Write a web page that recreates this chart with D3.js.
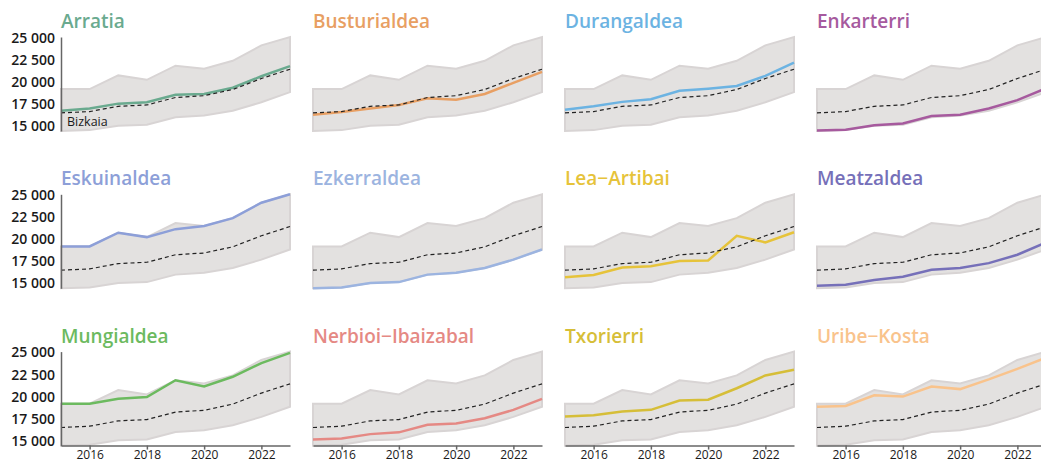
<!DOCTYPE html>
<html lang="eu">
<head>
<meta charset="UTF-8">
<title>Bizkaia eskualdeak</title>
<script src="https://d3js.org/d3.v7.min.js"></script>
<style>
  body { margin: 0; background: #fff; }
  text { font-family: "Open Sans", "Noto Sans", sans-serif; }
</style>
</head>
<body>
<script>
// urteak eta balioak
var years = [2015, 2016, 2017, 2018, 2019, 2020, 2021, 2022, 2023];
var bizkaia      = [16500, 16650, 17250, 17400, 18250, 18450, 19150, 20400, 21450];
var arratia      = [16750, 17000, 17550, 17700, 18550, 18650, 19350, 20650, 21800];
var busturialdea = [16300, 16600, 17000, 17400, 18150, 18000, 18650, 19900, 21150];
var durangaldea  = [16850, 17250, 17750, 18050, 19000, 19250, 19550, 20700, 22200];
var enkarterri   = [14500, 14600, 15100, 15300, 16150, 16300, 17000, 17950, 19300];
var eskuinaldea  = [19200, 19200, 20750, 20250, 21150, 21500, 22400, 24150, 25100];
var ezkerraldea  = [14450, 14550, 15050, 15150, 16000, 16200, 16750, 17700, 18850];
var leaArtibai   = [15700, 15950, 16800, 16950, 17550, 17600, 20400, 19650, 20800];
var meatzaldea   = [14750, 14850, 15400, 15750, 16550, 16750, 17300, 18250, 19650];
var mungialdea   = [19200, 19200, 19750, 19950, 21850, 21150, 22250, 23800, 24950];
var nerbioi      = [15150, 15250, 15750, 15950, 16800, 16950, 17550, 18500, 19750];
var txorierri    = [17750, 17900, 18300, 18500, 19550, 19650, 20950, 22400, 23050];
var uribeKosta   = [18850, 18950, 20150, 20000, 21150, 20850, 21950, 23150, 24400];

var names  = ["Arratia", "Busturialdea", "Durangaldea", "Enkarterri",
              "Eskuinaldea", "Ezkerraldea", "Lea\u2212Artibai", "Meatzaldea",
              "Mungialdea", "Nerbioi\u2212Ibaizabal", "Txorierri", "Uribe\u2212Kosta"];
var series = [arratia, busturialdea, durangaldea, enkarterri,
              eskuinaldea, ezkerraldea, leaArtibai, meatzaldea,
              mungialdea, nerbioi, txorierri, uribeKosta];
var colors = ["#6aaa8f", "#e89f63", "#6cb3e2", "#a65a9e",
              "#8d9fd8", "#9cb4e0", "#e6c33a", "#7670b9",
              "#6cba5f", "#e58984", "#d6be38", "#f9c38c"];
var yTicks = [15000, 17500, 20000, 22500, 25000];
var xTicks = [2016, 2018, 2020, 2022];

var width = 1041, height = 463;
var left = 61, colStep = 252, panelW = 229;
var top0 = 37, rowStep = 157.3, panelH = 94;

var svg = d3.select("body").append("svg")
  .attr("width", width).attr("height", height);

// tartea: eskualde guztien min eta max urte bakoitzean
var band = years.map(function(yr, i) {
  return { year: yr,
           lo: d3.min(series, function(s) { return s[i]; }),
           hi: d3.max(series, function(s) { return s[i]; }) };
});
var all = d3.merge(series.concat([bizkaia]));

var x = d3.scaleLinear().domain([2015, 2023]).range([0, panelW]);
var y = d3.scaleLinear().domain(d3.extent(all)).range([panelH, 0]);

var loc = d3.formatLocale({ decimal: ",", thousands: " ", grouping: [3], currency: ["", ""] });
var fmt = loc.format(",d");

var area = d3.area().x(function(d) { return x(d.year); })
  .y0(function(d) { return y(d.lo); }).y1(function(d) { return y(d.hi); });
var line = d3.line().x(function(d, i) { return x(years[i]); }).y(function(d) { return y(d); });

series.forEach(function(s, k) {
  var col = k % 4, row = Math.floor(k / 4);
  var g = svg.append("g")
    .attr("transform", "translate(" + (left + col * colStep) + "," + (top0 + row * rowStep) + ")");

  g.append("path").datum(band).attr("d", area)
    .attr("fill", "#e3e1e0").attr("stroke", "#d8d4d4").attr("stroke-width", 2);

  g.append("path").datum(s).attr("d", line)
    .attr("fill", "none").attr("stroke", colors[k]).attr("stroke-width", 2.5);

  g.append("path").datum(bizkaia).attr("d", line)
    .attr("fill", "none").attr("stroke", "#222").attr("stroke-width", 1.2)
    .attr("stroke-dasharray", "4,3");

  g.append("text").attr("x", 0).attr("y", -9)
    .attr("fill", colors[k]).attr("font-size", 19).attr("font-weight", 600)
    .text(names[k]);

  if (col == 0) {
    var ya = g.append("g").call(d3.axisLeft(y).tickValues(yTicks).tickFormat(fmt)
      .tickSize(0).tickPadding(6));
    ya.select(".domain").attr("stroke", "#666").attr("stroke-width", 1.5);
    ya.selectAll("text").attr("font-size", 14).attr("font-weight", 600)
      .attr("fill", "#1a1a1a").style("font-family", "'Open Sans'");
  }
  if (row == 2) {
    var xa = g.append("g").attr("transform", "translate(0," + panelH + ")")
      .call(d3.axisBottom(x).tickValues(xTicks).tickFormat(d3.format("d"))
        .tickSizeInner(4).tickSizeOuter(0).tickPadding(1));
    xa.select(".domain").attr("stroke", "#666").attr("stroke-width", 1.5);
    xa.selectAll(".tick line").attr("stroke", "#666").attr("stroke-width", 1.5);
    xa.selectAll("text").attr("font-size", 12).attr("font-weight", 500)
      .attr("fill", "#1a1a1a").style("font-family", "'Open Sans'");
  }
  if (k == 0) {
    g.append("text").attr("x", x(2015) + 6).attr("y", y(bizkaia[0]) + 13)
      .attr("font-size", 12.5).attr("fill", "#1a1a1a").text("Bizkaia");
  }
});
</script>
</body>
</html>
